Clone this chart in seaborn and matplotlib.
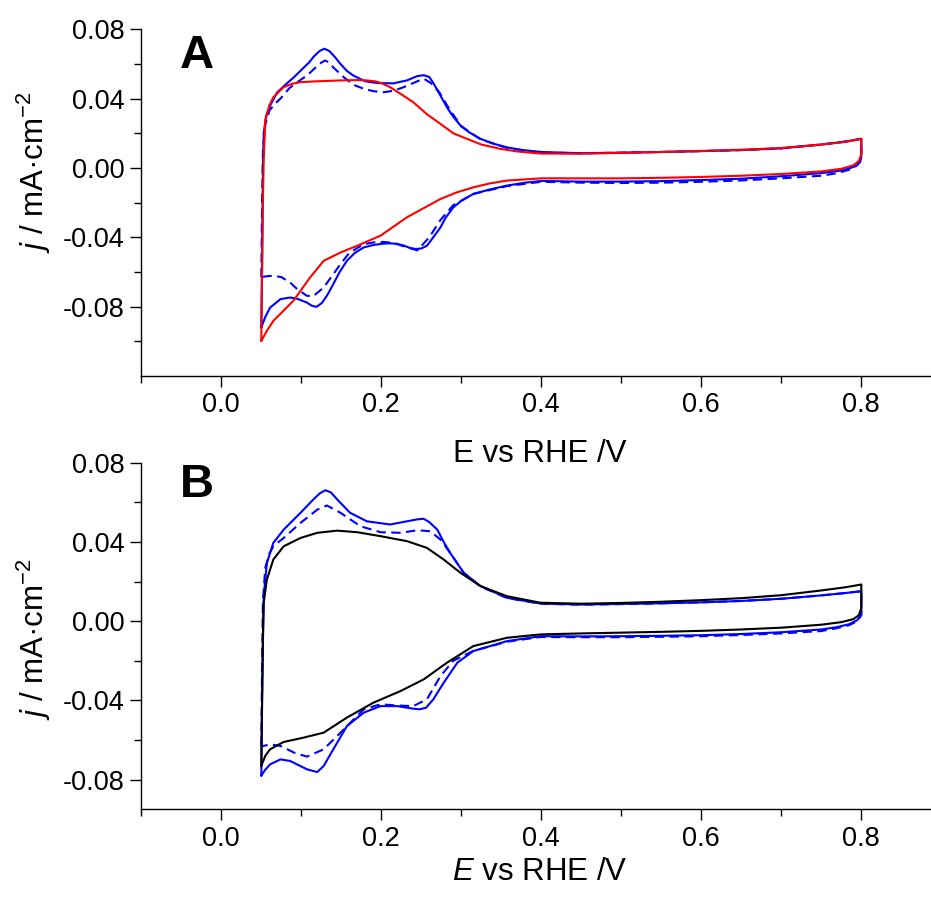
import numpy as np
import pandas as pd
import matplotlib
matplotlib.use("Agg")
import matplotlib.pyplot as plt
from matplotlib.ticker import MultipleLocator, FormatStrFormatter
import seaborn as sns

# ---- panel A : CV loops (anodic sweep 0.05 -> 0.8 V, then cathodic back) ----
a_blue_E = [0.05, 0.051, 0.052, 0.053, 0.056, 0.061, 0.070, 0.080, 0.090, 0.100, 0.110, 0.116, 0.123, 0.129,
            0.135, 0.142, 0.149, 0.157, 0.165, 0.180, 0.195, 0.215, 0.232, 0.245, 0.253, 0.260, 0.265, 0.270,
            0.276, 0.282, 0.290, 0.299, 0.310, 0.324, 0.340, 0.357, 0.375, 0.40, 0.45, 0.50, 0.55, 0.60, 0.65,
            0.70, 0.75, 0.78, 0.80,
            0.80, 0.798, 0.79, 0.775, 0.75, 0.70, 0.65, 0.60, 0.55, 0.50, 0.45, 0.40, 0.38, 0.357, 0.335,
            0.315, 0.30, 0.29, 0.28, 0.274, 0.265, 0.257, 0.250, 0.243, 0.236, 0.228, 0.220, 0.210, 0.200,
            0.190, 0.178, 0.167, 0.157, 0.148, 0.140, 0.133, 0.126, 0.119, 0.113, 0.107, 0.095, 0.086,
            0.074, 0.061, 0.055, 0.05]
a_blue_j = [-0.092, -0.05, 0.0, 0.02, 0.030, 0.036, 0.0437, 0.048, 0.052, 0.0565, 0.061, 0.0645, 0.0675, 0.0688,
            0.0675, 0.064, 0.060, 0.056, 0.0533, 0.050, 0.049, 0.0488, 0.0505, 0.053, 0.0535, 0.0525, 0.049, 0.045,
            0.040, 0.035, 0.0295, 0.0245, 0.0205, 0.0168, 0.014, 0.0119, 0.0104, 0.0092, 0.0085, 0.0088, 0.0092,
            0.0097, 0.0103, 0.0113, 0.0135, 0.0152, 0.0168,
            0.006, 0.003, 0.0005, -0.0015, -0.003, -0.0048, -0.0062, -0.0070, -0.0076, -0.0079, -0.0079, -0.0075,
            -0.0085, -0.0102, -0.0125, -0.015, -0.019, -0.0228, -0.029, -0.0343, -0.040, -0.0449, -0.0465,
            -0.0468, -0.0462, -0.0448, -0.0438, -0.0435, -0.0438, -0.0445, -0.0459, -0.049, -0.0536, -0.060,
            -0.067, -0.073, -0.0778, -0.0802, -0.0795, -0.0777, -0.0755, -0.0748, -0.0757, -0.0806, -0.086,
            -0.092]

a_dash_E = [0.05, 0.051, 0.052, 0.055, 0.060, 0.067, 0.074, 0.085, 0.095, 0.107, 0.118, 0.125, 0.130, 0.135,
            0.140, 0.153, 0.165, 0.178, 0.190, 0.203, 0.215, 0.228, 0.245, 0.253, 0.262, 0.272, 0.285, 0.30,
            0.324, 0.357, 0.40, 0.45, 0.50, 0.55, 0.60, 0.65, 0.70, 0.75, 0.78, 0.80,
            0.80, 0.795, 0.785, 0.77, 0.75, 0.70, 0.65, 0.60, 0.55, 0.50, 0.45, 0.40, 0.357, 0.315, 0.29,
            0.274, 0.26, 0.245, 0.23, 0.215, 0.203, 0.190, 0.178, 0.16, 0.149, 0.128, 0.115, 0.107, 0.095,
            0.086, 0.075, 0.065, 0.057, 0.05]
a_dash_j = [-0.063, -0.02, 0.01, 0.025, 0.033, 0.037, 0.040, 0.046, 0.0495, 0.0533, 0.058, 0.0608, 0.062, 0.0608,
            0.058, 0.0524, 0.048, 0.0457, 0.0443, 0.0437, 0.0445, 0.0466, 0.050, 0.0515, 0.049, 0.044, 0.034,
            0.024, 0.0165, 0.0115, 0.0088, 0.0085, 0.0088, 0.0092, 0.0097, 0.0103, 0.0113, 0.0135, 0.0152, 0.0168,
            0.005, 0.0015, -0.001, -0.003, -0.0045, -0.006, -0.0072, -0.008, -0.0085, -0.0087, -0.0085, -0.008,
            -0.0105, -0.015, -0.0215, -0.030, -0.040, -0.0476, -0.0455, -0.0433, -0.0427, -0.0430, -0.044,
            -0.049, -0.0555, -0.069, -0.074, -0.0738, -0.070, -0.0661, -0.063, -0.0622, -0.0625, -0.063]

a_red_E = [0.05, 0.051, 0.052, 0.053, 0.055, 0.060, 0.065, 0.072, 0.078, 0.088, 0.099, 0.12, 0.149, 0.170,
           0.182, 0.192, 0.20, 0.211, 0.225, 0.24, 0.257, 0.274, 0.29, 0.307, 0.325, 0.349, 0.37, 0.399, 0.45,
           0.50, 0.55, 0.60, 0.65, 0.70, 0.75, 0.78, 0.80,
           0.80, 0.797, 0.79, 0.775, 0.75, 0.70, 0.65, 0.60, 0.55, 0.50, 0.45, 0.40, 0.357, 0.335, 0.315,
           0.295, 0.274, 0.232, 0.199, 0.17, 0.149, 0.128, 0.111, 0.090, 0.065, 0.057, 0.05]
a_red_j = [-0.0998, -0.06, -0.02, 0.005, 0.0273, 0.036, 0.0408, 0.044, 0.0466, 0.0485, 0.0495, 0.050, 0.0505,
           0.0507, 0.0505, 0.050, 0.049, 0.0466, 0.0425, 0.0379, 0.031, 0.0254, 0.020, 0.0168, 0.0135, 0.011,
           0.0095, 0.0083, 0.0082, 0.0087, 0.0092, 0.0098, 0.0105, 0.0115, 0.0135, 0.015, 0.0168,
           0.008, 0.004, 0.0015, -0.0005, -0.002, -0.0035, -0.0045, -0.0052, -0.0057, -0.006, -0.006, -0.006,
           -0.0073, -0.009, -0.0112, -0.014, -0.0179, -0.0285, -0.0391, -0.0449, -0.0488, -0.0536, -0.0632,
           -0.0767, -0.0883, -0.094, -0.0998]

# ---- panel B ----
b_blue_E = [0.05, 0.051, 0.052, 0.053, 0.057, 0.065, 0.078, 0.099, 0.115, 0.123, 0.13, 0.137, 0.145, 0.161,
            0.182, 0.211, 0.232, 0.245, 0.253, 0.26, 0.27, 0.278, 0.286, 0.303, 0.324, 0.357, 0.399, 0.45, 0.50,
            0.55, 0.60, 0.65, 0.70, 0.75, 0.78, 0.80,
            0.80, 0.795, 0.785, 0.77, 0.75, 0.70, 0.65, 0.60, 0.55, 0.50, 0.45, 0.399, 0.357, 0.315, 0.295,
            0.278, 0.265, 0.256, 0.248, 0.24, 0.22, 0.199, 0.178, 0.157, 0.14, 0.128, 0.12, 0.107, 0.086,
            0.074, 0.061, 0.055, 0.05]
b_blue_j = [-0.078, -0.04, -0.01, 0.0126, 0.0294, 0.0395, 0.0462, 0.0547, 0.0614, 0.0645, 0.0661, 0.065, 0.0614,
            0.0547, 0.0504, 0.0488, 0.0504, 0.0514, 0.0517, 0.050, 0.0462, 0.040, 0.0345, 0.0244, 0.0177, 0.0118,
            0.0089, 0.0084, 0.0087, 0.009, 0.0095, 0.0102, 0.0113, 0.013, 0.0142, 0.0151,
            0.0034, 0.0005, -0.0015, -0.003, -0.0042, -0.0056, -0.0065, -0.0071, -0.0074, -0.0076, -0.0077,
            -0.0076, -0.0101, -0.0151, -0.021, -0.0311, -0.0395, -0.0437, -0.0445, -0.0442, -0.0429, -0.0429,
            -0.0462, -0.053, -0.0647, -0.0731, -0.0762, -0.0748, -0.0706, -0.0698, -0.0723, -0.075, -0.078]

b_dash_E = [0.05, 0.051, 0.052, 0.055, 0.060, 0.065, 0.078, 0.099, 0.12, 0.132, 0.149, 0.174, 0.199, 0.224,
            0.245, 0.261, 0.274, 0.286, 0.303, 0.324, 0.357, 0.399, 0.45, 0.50, 0.55, 0.60, 0.65, 0.70, 0.75,
            0.78, 0.80,
            0.80, 0.795, 0.785, 0.77, 0.75, 0.70, 0.65, 0.60, 0.55, 0.50, 0.45, 0.399, 0.357, 0.315, 0.29,
            0.274, 0.257, 0.24, 0.22, 0.199, 0.178, 0.149, 0.128, 0.107, 0.091, 0.074, 0.061, 0.053, 0.05]
b_dash_j = [-0.063, -0.02, 0.01, 0.027, 0.034, 0.0378, 0.042, 0.0496, 0.0563, 0.0584, 0.0547, 0.0479, 0.0449,
            0.0446, 0.0459, 0.0454, 0.0412, 0.0345, 0.0244, 0.0175, 0.0117, 0.0088, 0.0083, 0.0086, 0.009, 0.0095,
            0.0102, 0.0113, 0.013, 0.0142, 0.0151,
            0.003, 0.0, -0.002, -0.0035, -0.005, -0.0062, -0.007, -0.0076, -0.0079, -0.0081, -0.0081, -0.008,
            -0.0104, -0.015, -0.020, -0.0277, -0.0395, -0.0429, -0.0426, -0.042, -0.0445, -0.0563, -0.0647,
            -0.0684, -0.0664, -0.063, -0.0622, -0.063, -0.063]

b_black_E = [0.05, 0.051, 0.052, 0.053, 0.057, 0.065, 0.078, 0.099, 0.12, 0.145, 0.17, 0.199, 0.232, 0.257,
             0.278, 0.299, 0.324, 0.357, 0.399, 0.45, 0.50, 0.55, 0.60, 0.65, 0.70, 0.75, 0.78, 0.80,
             0.80, 0.797, 0.79, 0.775, 0.75, 0.70, 0.65, 0.60, 0.55, 0.50, 0.45, 0.399, 0.357, 0.315, 0.282,
             0.253, 0.224, 0.19, 0.157, 0.128, 0.103, 0.078, 0.061, 0.055, 0.05]
b_black_j = [-0.0731, -0.04, -0.01, 0.0093, 0.021, 0.0311, 0.0378, 0.042, 0.0446, 0.0457, 0.0449, 0.0429, 0.0404,
             0.037, 0.0311, 0.0244, 0.0177, 0.0126, 0.0093, 0.0088, 0.0092, 0.0098, 0.0106, 0.0116, 0.0131,
             0.0155, 0.0171, 0.0185,
             0.0067, 0.003, 0.001, -0.0005, -0.0018, -0.0033, -0.0042, -0.0049, -0.0054, -0.0058, -0.0062,
             -0.0067, -0.0084, -0.0126, -0.021, -0.0294, -0.0353, -0.0412, -0.0487, -0.0563, -0.0588, -0.061,
             -0.0647, -0.068, -0.0731]

sns.set_style("ticks")
plt.rcParams['font.family'] = ['Liberation Sans', 'DejaVu Sans']
plt.rcParams['mathtext.fontset'] = 'custom'
plt.rcParams['mathtext.rm'] = 'Liberation Sans'
plt.rcParams['mathtext.it'] = 'Liberation Sans:italic'
plt.rcParams['axes.unicode_minus'] = False
for key in ['text.color', 'axes.labelcolor', 'xtick.color', 'ytick.color', 'axes.edgecolor']:
    plt.rcParams[key] = 'black'

fig = plt.figure(figsize=(9.31, 9.02), dpi=100)
ax_a = fig.add_axes([141.3 / 931, 1 - 375.7 / 902, 789.7 / 931, 346.4 / 902])
ax_b = fig.add_axes([141.3 / 931, 1 - 809.3 / 902, 789.7 / 931, 346.6 / 902])

dash = (0, (4.5, 2.6))
lw = 1.5


def draw(ax, E, j, color, ls='-'):
    df = pd.DataFrame({'E': E, 'j': j})
    sns.lineplot(data=df, x='E', y='j', sort=False, estimator=None, color=color,
                 linewidth=lw, linestyle=ls, ax=ax)


draw(ax_a, a_blue_E, a_blue_j, '#0000ff')
draw(ax_a, a_dash_E, a_dash_j, '#0000ff', dash)
draw(ax_a, a_red_E, a_red_j, '#ff0000')

draw(ax_b, b_blue_E, b_blue_j, '#0000ff')
draw(ax_b, b_dash_E, b_dash_j, '#0000ff', dash)
draw(ax_b, b_black_E, b_black_j, '#000000')

for ax, ylim in [(ax_a, (-0.1199, 0.08)), (ax_b, (-0.095, 0.08))]:
    ax.set_xlim(-0.1, -0.1 + 789.7 / 800)
    ax.set_ylim(*ylim)
    sns.despine(ax=ax)
    for s in ['left', 'bottom']:
        ax.spines[s].set_linewidth(1.0)
    ax.xaxis.set_major_locator(MultipleLocator(0.2))
    ax.xaxis.set_minor_locator(MultipleLocator(0.1))
    ax.yaxis.set_major_locator(MultipleLocator(0.04))
    ax.yaxis.set_minor_locator(MultipleLocator(0.02))
    ax.xaxis.set_major_formatter(FormatStrFormatter('%.1f'))
    ax.yaxis.set_major_formatter(FormatStrFormatter('%.2f'))
    ax.tick_params(which='major', direction='out', length=8, width=1.0, labelsize=19.5, pad=4)
    ax.tick_params(which='minor', direction='out', length=5, width=1.0)
    ax.set_ylabel(r'$j$ / mA·cm$^{-2}$', fontsize=22.5)

ax_a.set_xlabel('E vs RHE /V', fontsize=22.5, va='top')
ax_b.set_xlabel(r'$E$ vs RHE /V', fontsize=22.5, va='top')
ax_a.xaxis.set_label_coords(0.505, -0.184)
ax_b.xaxis.set_label_coords(0.505, -0.138)
ax_a.yaxis.set_label_coords(-0.112, 0.588)
ax_b.yaxis.set_label_coords(-0.112, 0.491)

ax_a.text(0.049, 0.888, 'A', transform=ax_a.transAxes, fontsize=34, fontweight='bold', ha='left', va='baseline')
ax_b.text(0.049, 0.902, 'B', transform=ax_b.transAxes, fontsize=34, fontweight='bold', ha='left', va='baseline')

fig.savefig('out.png', dpi=100)
